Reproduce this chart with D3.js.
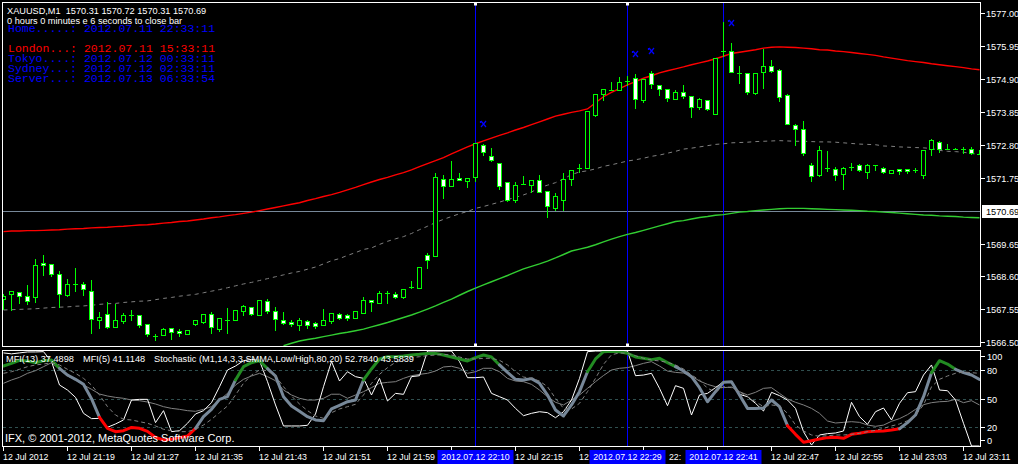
<!DOCTYPE html>
<html><head><meta charset="utf-8">
<script src="https://cdn.jsdelivr.net/npm/d3@7"></script>
<style>html,body{margin:0;padding:0;background:#000;overflow:hidden}svg{display:block}text{font-family:"Liberation Sans",Arial,sans-serif;white-space:pre}</style>
</head><body><svg id="c" width="1018" height="464"></svg>
<script>
// ---------- DATA ----------
const opens = [1567.89,1568.04,1568.10,1567.98,1567.94,1569.04,1569.00,1568.69,1568.02,1568.35,
1568.36,1568.14,1567.21,1567.41,1566.98,1567.17,1567.38,1567.36,1567.09,1566.69,
1566.72,1566.96,1566.87,1566.75,1567.09,1567.16,1567.41,1566.91,1567.22,1567.21,
1567.49,1567.63,1567.36,1567.82,1567.49,1567.21,1567.16,1567.04,1567.18,1567.10,
1567.05,1567.17,1567.41,1567.37,1567.28,1567.42,1567.85,1567.74,1568.08,1568.04,
1567.96,1568.25,1568.23,1569.29,1569.24,1571.71,1571.48,1571.75,1571.64,1571.77,
1572.80,1572.45,1572.22,1571.61,1571.05,1571.56,1571.51,1571.68,1571.31,1570.79,
1571.05,1571.70,1572.05,1572.05,1573.76,1574.43,1574.56,1574.56,1574.83,1574.94,
1574.24,1575.10,1574.71,1574.59,1574.27,1574.49,1574.34,1574.00,1574.24,1573.79,
1575.79,1575.80,1575.08,1575.10,1574.45,1575.12,1575.30,1575.17,1574.40,1573.42,
1573.29,1572.14,1571.84,1572.05,1572.03,1571.86,1572.10,1572.14,1571.92,1572.16,
1572.07,1571.90,1572.01,1572.03,1571.98,1571.84,1572.66,1572.89,1572.67,1572.67,
1572.67,1572.66,1572.51];
const highs = [1568.05,1568.15,1568.10,1568.34,1569.16,1569.27,1569.00,1568.76,1568.53,1568.88,
1568.43,1568.49,1567.48,1567.77,1567.72,1567.42,1567.54,1567.36,1567.09,1566.77,
1566.96,1566.96,1566.93,1566.90,1567.21,1567.41,1567.46,1567.28,1567.60,1567.53,
1567.70,1567.63,1567.85,1567.88,1567.61,1567.48,1567.22,1567.28,1567.22,1567.15,
1567.57,1567.44,1567.42,1567.41,1567.51,1567.94,1567.85,1568.12,1568.12,1568.10,
1568.20,1568.47,1568.91,1569.35,1571.91,1571.85,1572.27,1571.91,1571.75,1572.86,
1572.83,1572.70,1572.22,1571.61,1571.60,1571.79,1571.68,1571.82,1571.31,1571.26,
1571.91,1572.00,1572.20,1573.89,1574.43,1574.59,1574.80,1574.96,1574.98,1575.07,
1574.91,1575.14,1574.71,1574.59,1574.56,1574.69,1574.34,1574.29,1574.24,1575.58,
1576.70,1576.04,1575.30,1575.10,1575.08,1575.86,1575.49,1575.23,1574.43,1573.47,
1573.57,1572.22,1572.76,1572.59,1572.08,1572.10,1572.22,1572.20,1572.17,1572.16,
1572.10,1571.98,1572.01,1572.04,1572.06,1572.64,1572.98,1572.91,1572.81,1572.68,
1572.74,1572.74,1572.62];
const lows = [1567.57,1567.54,1567.74,1567.73,1567.78,1568.63,1568.60,1567.62,1567.99,1568.13,
1568.02,1566.79,1566.95,1566.95,1566.98,1567.10,1567.22,1566.98,1566.71,1566.58,
1566.72,1566.60,1566.69,1566.75,1567.04,1567.13,1566.81,1566.85,1566.81,1567.21,
1567.36,1567.36,1567.36,1567.42,1566.88,1567.07,1567.03,1566.88,1566.95,1566.95,
1567.05,1567.11,1567.25,1567.22,1567.28,1567.42,1567.49,1567.74,1567.74,1567.90,
1567.92,1568.23,1568.23,1568.86,1569.24,1571.11,1571.48,1571.67,1571.45,1571.64,
1572.46,1572.27,1571.38,1570.99,1570.96,1571.56,1571.29,1571.29,1570.51,1570.73,
1570.73,1571.53,1571.92,1572.05,1573.71,1574.24,1574.56,1574.56,1574.69,1573.97,
1574.16,1574.61,1574.37,1574.19,1574.27,1574.29,1573.68,1573.93,1573.91,1573.79,
1575.62,1575.13,1574.77,1574.43,1574.41,1574.61,1575.12,1574.19,1573.45,1572.80,
1572.46,1571.64,1571.80,1571.96,1571.66,1571.38,1571.98,1571.96,1571.73,1571.98,
1571.89,1571.90,1571.88,1571.90,1571.92,1571.75,1572.48,1572.56,1572.66,1572.66,
1572.53,1572.51,1572.49];
const closes = [1567.99,1568.15,1567.97,1567.81,1568.95,1568.96,1568.67,1568.04,1568.36,1568.35,
1568.19,1567.23,1567.32,1566.98,1567.21,1567.38,1567.38,1567.04,1566.77,1566.69,
1566.93,1566.83,1566.80,1566.90,1567.21,1567.41,1567.00,1567.28,1567.22,1567.53,
1567.66,1567.40,1567.85,1567.49,1567.23,1567.12,1567.09,1567.21,1567.05,1567.01,
1567.21,1567.44,1567.26,1567.28,1567.51,1567.85,1567.78,1568.08,1568.08,1567.94,
1568.20,1568.25,1568.91,1569.13,1571.77,1571.49,1571.71,1571.67,1571.75,1572.86,
1572.56,1572.32,1571.48,1571.05,1571.53,1571.56,1571.68,1571.29,1570.84,1571.18,
1571.71,1572.00,1572.05,1573.89,1574.43,1574.59,1574.56,1574.81,1574.83,1574.27,
1574.91,1574.75,1574.59,1574.30,1574.49,1574.36,1574.00,1574.25,1573.94,1575.58,
1575.79,1575.13,1575.08,1574.49,1575.08,1575.30,1575.16,1574.32,1573.47,1573.30,
1572.53,1571.80,1572.62,1572.05,1571.83,1572.07,1572.10,1572.00,1572.14,1572.16,
1571.92,1571.98,1571.96,1571.96,1571.98,1572.64,1572.94,1572.67,1572.67,1572.67,
1572.67,1572.54,1572.51];

const upperMA = [1570.03,1570.05,1570.05,1570.06,1570.06,1570.07,1570.08,1570.09,1570.11,1570.12,
1570.13,1570.15,1570.16,1570.17,1570.19,1570.20,1570.22,1570.24,1570.25,1570.27,
1570.30,1570.32,1570.35,1570.37,1570.40,1570.43,1570.47,1570.50,1570.54,1570.57,
1570.61,1570.65,1570.70,1570.75,1570.80,1570.85,1570.90,1570.95,1571.02,1571.08,
1571.15,1571.21,1571.28,1571.36,1571.44,1571.53,1571.61,1571.69,1571.76,1571.84,
1571.91,1572.00,1572.10,1572.20,1572.29,1572.39,1572.51,1572.62,1572.73,1572.83,
1572.92,1573.01,1573.10,1573.18,1573.27,1573.35,1573.44,1573.53,1573.62,1573.71,
1573.77,1573.83,1573.88,1573.94,1574.14,1574.33,1574.47,1574.59,1574.71,1574.81,
1574.92,1575.00,1575.09,1575.16,1575.22,1575.28,1575.35,1575.41,1575.47,1575.54,
1575.62,1575.71,1575.75,1575.79,1575.83,1575.88,1575.91,1575.92,1575.91,1575.90,
1575.88,1575.86,1575.83,1575.82,1575.79,1575.77,1575.74,1575.71,1575.68,1575.65,
1575.60,1575.56,1575.52,1575.48,1575.45,1575.42,1575.38,1575.35,1575.32,1575.29,
1575.26,1575.22,1575.19];
const middleMA = [1567.53,1567.54,1567.55,1567.56,1567.57,1567.59,1567.61,1567.62,1567.63,1567.65,
1567.66,1567.68,1567.71,1567.73,1567.74,1567.77,1567.79,1567.81,1567.82,1567.86,
1567.90,1567.93,1567.97,1568.00,1568.03,1568.08,1568.13,1568.18,1568.24,1568.30,
1568.36,1568.41,1568.47,1568.53,1568.59,1568.65,1568.71,1568.76,1568.83,1568.90,
1569.00,1569.10,1569.17,1569.27,1569.36,1569.46,1569.51,1569.62,1569.72,1569.80,
1569.87,1569.97,1570.09,1570.20,1570.32,1570.42,1570.51,1570.60,1570.67,1570.77,
1570.83,1570.90,1570.97,1571.05,1571.12,1571.20,1571.29,1571.43,1571.51,1571.59,
1571.71,1571.85,1571.93,1571.97,1572.03,1572.11,1572.16,1572.22,1572.28,1572.32,
1572.37,1572.43,1572.47,1572.53,1572.59,1572.66,1572.69,1572.73,1572.77,1572.81,
1572.83,1572.86,1572.87,1572.88,1572.90,1572.91,1572.92,1572.93,1572.92,1572.91,
1572.91,1572.90,1572.89,1572.89,1572.88,1572.86,1572.84,1572.82,1572.81,1572.80,
1572.76,1572.75,1572.73,1572.72,1572.71,1572.70,1572.68,1572.62,1572.59,1572.58,
1572.56,1572.52,1572.49];
const lowerMA = [null,null,null,null,null,null,null,null,null,null,
null,null,null,null,null,null,null,null,null,null,
null,null,null,null,null,null,null,null,null,null,
null,null,null,null,null,1566.39,1566.47,1566.54,1566.59,1566.63,
1566.68,1566.73,1566.78,1566.82,1566.87,1566.92,1566.99,1567.06,1567.13,1567.21,
1567.29,1567.37,1567.46,1567.56,1567.66,1567.77,1567.88,1568.00,1568.12,1568.23,
1568.33,1568.43,1568.53,1568.63,1568.74,1568.84,1568.92,1569.00,1569.09,1569.19,
1569.30,1569.41,1569.47,1569.53,1569.61,1569.70,1569.79,1569.87,1569.94,1570.00,
1570.07,1570.14,1570.21,1570.28,1570.35,1570.38,1570.43,1570.48,1570.51,1570.55,
1570.57,1570.61,1570.65,1570.67,1570.70,1570.72,1570.74,1570.76,1570.77,1570.77,
1570.77,1570.76,1570.75,1570.74,1570.73,1570.72,1570.71,1570.70,1570.68,1570.67,
1570.65,1570.64,1570.62,1570.60,1570.58,1570.56,1570.55,1570.53,1570.52,1570.51,
1570.49,1570.48,1570.47];

const mfi5 = [98,97,98,99,99,99.3,88.8,64.2,58.9,51.2,
34.4,28.8,29.1,19.7,23.2,27.4,48.4,49.1,49.1,24.6,
37.2,15.1,16.1,23.9,33.7,37.2,45.6,62.4,80.0,84.2,
89.8,91.2,89.8,67.7,43.2,21.1,21.1,21.1,21.8,33.7,
62.4,89.0,68.4,78.2,73.0,71.2,53.7,71.2,47.4,55.4,
54.4,73.0,74.0,100,100,100,100,88.8,71.9,71.9,
72.6,55.4,51.9,48.4,39.6,31.9,34.4,36.1,35.1,29.8,
36.1,48.4,71.2,99.3,100,100,100,100,100,74.0,
74.7,76.5,60.7,42.4,63.5,60.7,32.6,53.7,55.4,61.4,
67.7,67.7,54.4,51.9,44.9,36.8,56.5,53.0,48.4,39.6,
15.1,1.0,11.6,13.0,13.7,15.8,46.0,30.9,22.8,36.1,
40.0,27.4,44.9,56.1,57.2,74.7,85.3,58.9,58.2,48.4,
23.9,0,0];
const mfi13 = [66.0,69.5,72.3,76.5,79.3,83.5,87.7,80.7,73.7,69.5,
64.2,59.7,54.7,52.6,51.2,50.2,48.4,47.7,46.3,44.2,
41.4,39.6,38.6,37.2,36.5,38.6,41.4,48.4,55.4,64.2,
70.2,73.7,76.5,73.0,68.7,58.9,53.7,50.2,48.4,48.4,
50.2,54.5,54.5,50.2,53.7,57.2,61.4,66.0,67.0,67.7,
71.2,74.0,75.4,76.5,78.9,83.2,83.9,81.8,76.5,78.2,
81.8,81.8,78.2,71.2,68.4,67.7,64.9,58.9,51.9,46.0,
43.2,48.4,53.7,60.7,67.7,74.2,80.0,81.8,82.5,84.6,
87.0,88.8,84.2,78.9,77.5,76.8,73.7,68.4,64.9,62.4,
61.4,62.1,57.2,53.7,56.5,60.7,61.4,55.4,49.5,46.0,
43.2,39.6,34.4,26.3,24.2,24.9,25.6,24.9,22.1,20.7,
22.0,26.0,28.8,33.0,38.6,43.5,45.6,46.6,47.0,49.1,
45.6,47.7,43.2];
const stochMain = [84.2,87.0,90.2,89.5,87.7,89.8,90.5,81.8,74.7,70.2,
64.9,49.8,30.2,18.6,15.1,16.1,19.5,18.6,15.4,9.1,
6.3,7.0,8.8,10.5,18.6,30.9,38.6,49.1,51.9,69.5,
83.5,87.7,89.8,81.4,73.7,51.9,42.1,36.5,30.9,27.4,
26.6,39.0,42.8,46.6,48.4,69.5,81.1,91.6,94.0,94.0,
94.7,95.8,96.5,97.5,97.5,95.8,93.7,91.6,89.5,93.0,
95.8,93.7,85.3,77.5,70.2,69.5,70.9,66.0,53.7,37.9,
31.6,43.2,57.2,78.2,91.6,99.3,99.8,99.3,97.5,93.7,
92.3,90.9,92.3,87.7,83.5,78.9,73.0,61.4,46.6,57.2,
67.0,67.7,53.7,39.6,39.6,40.0,48.4,41.4,21.4,12.3,
3.9,5.6,7.4,8.8,9.1,8.1,12.3,13.4,15.1,15.4,
15.9,16.8,18.2,24.6,32.6,51.9,77.2,89.8,86.3,80.7,
77.2,74.7,70.2];
const stochSignal = [76.5,78.2,80.7,83.5,85.3,86.3,87.7,85.3,80.7,76.5,
71.2,64.2,53.7,41.4,32.6,28.1,27.4,25.6,23.9,21.1,
17.6,16.1,15.1,15.1,17.6,22.1,28.1,35.1,42.1,53.7,
66.0,74.7,80.0,79.3,73.7,62.4,52.6,44.2,37.2,31.6,
29.1,35.0,39.0,41.4,43.9,53.7,66.0,75.4,82.5,88.1,
90.5,93.0,94.0,95.1,95.8,96.5,95.8,93.7,91.6,91.6,
92.3,92.3,90.2,85.3,78.2,72.6,71.2,68.4,62.4,50.2,
39.6,38.9,44.9,57.2,71.2,86.0,96.0,98.0,97.5,95.1,
92.3,90.5,89.5,88.1,85.3,81.1,74.7,69.5,60.7,57.2,
62.4,61.4,57.2,51.9,46.6,41.4,43.2,42.1,34.4,22.1,
15.8,11.6,10.2,10.8,11.6,11.6,12.3,13.4,15.1,16.5,
18.5,21.1,23.2,26.6,32.6,43.2,62.4,70.2,73.7,76.5,
77.9,77.2,76.5];
// bar ranges where the stochastic main line is drawn green / red
const greenRuns = [[0,7],[29,33],[45,62],[73,84],[116,119]];
const redRuns = [[12,24],[98,112]];
const fractalBars = [60,79,81,91];

const priceTicks = [1577.00,1575.95,1574.90,1573.85,1572.80,1571.75,1569.65,1568.60,1567.55,1566.50];
const bidPrice = 1570.69;
const indTicks = [100,80,50,20,0];
const indLevels = [80,50,20];
const timeTickBars = [0,8,16,24,32,40,48,56,64,72,80,88,96,104,112,120];
const timeLabels = ["12 Jul 2012","12 Jul 21:19","12 Jul 21:27","12 Jul 21:35","12 Jul 21:43","12 Jul 21:51",
"12 Jul 21:59","12 Jul 22:07","12 Jul 22:15","12 Jul 22:23","12 Jul 22:31","12 Jul 22:39","12 Jul 22:47",
"12 Jul 22:55","12 Jul 23:03","12 Jul 23:11"];
const vlineBars = [59,78,90];
const vlineLabels = ["2012.07.12 22:10","2012.07.12 22:29","2012.07.12 22:41"];
const markedVlines = [59,78];
const headerLines = ["XAUUSD,M1  1570.31 1570.72 1570.31 1570.69","0 hours 0 minutes e 6 seconds to close bar"];
const clockLines = [
 {t:"Home.....: 2012.07.11 22:33:11", c:"#0000ff", y:31.5},
 {t:"London...: 2012.07.11 15:33:11", c:"#ff0000", y:51.5},
 {t:"Tokyo....: 2012.07.12 00:33:11", c:"#0000ff", y:62},
 {t:"Sydney...: 2012.07.12 02:33:11", c:"#0000ff", y:72},
 {t:"Server...: 2012.07.13 06:33:54", c:"#0000ff", y:82}];
const indLabels = [{t:"MFI(13) 37.4898",x:6},{t:"MFI(5) 41.1148",x:83},{t:"Stochastic (M1,14,3,3,SMMA,Low/High,80,20) 52.7840 43.5839",x:154}];
const copyright = "IFX, © 2001-2012, MetaQuotes Software Corp.";

// ---------- DRAW ----------
const svg = d3.select('#c');
const N = opens.length;
const x = d3.scaleLinear().domain([0,122]).range([3,979]);
const y = d3.scaleLinear().domain([1566.5,1577.0]).range([342.3,13]);
const yi = d3.scaleLinear().domain([0,100]).range([446,351]);
const FS = 9.2, TFS = 8.8;

svg.append('rect').attr('width',1018).attr('height',464).attr('fill','#000');
const defs = svg.append('defs');
defs.append('clipPath').attr('id','mc').append('rect').attr('x',3).attr('y',3).attr('width',977).attr('height',343);
defs.append('clipPath').attr('id','ic').append('rect').attr('x',3).attr('y',351).attr('width',977).attr('height',95);

// main window
const main = svg.append('g').attr('clip-path','url(#mc)');
main.append('line').attr('x1',3).attr('x2',980).attr('y1',Math.round(y(bidPrice))+0.5).attr('y2',Math.round(y(bidPrice))+0.5)
  .attr('stroke','#778899').attr('stroke-width',1);
vlineBars.forEach(b=>{
  main.append('line').attr('x1',x(b)+0.5).attr('x2',x(b)+0.5).attr('y1',3).attr('y2',346).attr('stroke','#0000ff');
});
const lineGen = d3.line().defined(d=>d[1]!=null).x(d=>x(d[0])+0.5).y(d=>y(d[1]));
const pts = arr => arr.map((v,i)=>[i,v]);
main.append('path').attr('d',lineGen(pts(middleMA))).attr('fill','none').attr('stroke','#808080').attr('stroke-width',1).attr('stroke-dasharray','4,4');
main.append('path').attr('d',lineGen(pts(upperMA))).attr('fill','none').attr('stroke','#ff0000').attr('stroke-width',1.4);
main.append('path').attr('d',lineGen(pts(lowerMA))).attr('fill','none').attr('stroke','#32cd32').attr('stroke-width',1.4);

const cg = main.append('g');
for(let i=0;i<N;i++){
  const cx = x(i);
  const yh = Math.round(y(highs[i])), yl = Math.round(y(lows[i]));
  cg.append('rect').attr('x',cx).attr('y',yh).attr('width',1).attr('height',Math.max(1,yl-yh+1)).attr('fill','#00ff00');
  const top = Math.round(y(Math.max(opens[i],closes[i]))), bot = Math.round(y(Math.min(opens[i],closes[i])));
  if(bot-top<1){
    cg.append('rect').attr('x',cx-2).attr('y',top).attr('width',5).attr('height',1).attr('fill','#00ff00');
  } else {
    cg.append('rect').attr('x',cx-1.5).attr('y',top+0.5).attr('width',4).attr('height',bot-top)
      .attr('fill', closes[i]>opens[i] ? '#000' : '#fff').attr('stroke','#00ff00').attr('stroke-width',1);
  }
}
// fractal marks
fractalBars.forEach(b=>{
  const fx = x(b)+0.5, fy = Math.round(y(highs[b]))-20;
  main.append('path').attr('d',`M${fx-2.5},${fy-3}L${fx+2.5},${fy+3}M${fx+2.5},${fy-3}L${fx-2.5},${fy+3}M${fx-3},${fy-3}L${fx-3},${fy-1}`)
    .attr('stroke','#0000ff').attr('stroke-width',1.2).attr('fill','none');
});

// header texts
headerLines.forEach((t,i)=>{
  svg.append('text').attr('x',7).attr('y',i===0?13.5:23.5).attr('fill','#fff').attr('font-size',FS).text(t);
});
clockLines.forEach(d=>{
  svg.append('text').attr('x',8).attr('y',d.y).attr('fill',d.c).attr('font-size',11.5)
    .style('font-family','"Liberation Mono","DejaVu Sans Mono",monospace').text(d.t);
});

// frames
svg.append('rect').attr('x',2.5).attr('y',2.5).attr('width',978).attr('height',344).attr('fill','none').attr('stroke','#fff');
svg.append('rect').attr('x',2.5).attr('y',350.5).attr('width',978).attr('height',96).attr('fill','none').attr('stroke','#fff');
markedVlines.forEach(b=>{
  [4,345].forEach(yy=>svg.append('rect').attr('x',x(b)-1).attr('y',yy-1.5).attr('width',3).attr('height',3).attr('fill','#fff'));
});

// price axis
priceTicks.forEach(v=>{
  const yy = Math.round(y(v))+0.5;
  svg.append('line').attr('x1',981).attr('x2',985).attr('y1',yy).attr('y2',yy).attr('stroke','#fff');
  svg.append('text').attr('x',986).attr('y',yy+3.5).attr('fill','#fff').attr('font-size',FS).text(v.toFixed(2));
});
{
  const yy = Math.round(y(bidPrice))+0.5;
  svg.append('rect').attr('x',982).attr('y',yy-6.5).attr('width',36).attr('height',13).attr('fill','#fff');
  svg.append('text').attr('x',986).attr('y',yy+3.5).attr('fill','#000').attr('font-size',FS).text(bidPrice.toFixed(2));
}

// indicator window
const ind = svg.append('g').attr('clip-path','url(#ic)');
indLevels.forEach(v=>{
  const yy = Math.round(yi(v))+0.5;
  ind.append('line').attr('x1',3).attr('x2',980).attr('y1',yy).attr('y2',yy).attr('stroke','#2f4f4f').attr('stroke-dasharray','3,3');
});
indLabels.forEach(d=>svg.append('text').attr('x',d.x).attr('y',362).attr('fill','#fff').attr('font-size',FS).text(d.t));
svg.append('text').attr('x',5).attr('y',441.5).attr('fill','#fff').attr('font-size',11).text(copyright);
vlineBars.forEach(b=>{
  ind.append('line').attr('x1',x(b)+0.5).attr('x2',x(b)+0.5).attr('y1',351).attr('y2',446).attr('stroke','#0000ff');
});
const il = d3.line().x(d=>x(d[0])+0.5).y(d=>yi(d[1]));
ind.append('path').attr('d',il(pts(mfi13))).attr('fill','none').attr('stroke','#808080').attr('stroke-width',1);
ind.append('path').attr('d',il(pts(mfi5))).attr('fill','none').attr('stroke','#ffffff').attr('stroke-width',1);
const inRuns = (runs,i)=>runs.some(([a,b])=>i>=a && i<b);
const colAt = i => inRuns(greenRuns,i) ? '#228b22' : (inRuns(redRuns,i) ? '#ff0000' : '#778899');
let runs=[], cur=null;
for(let i=0;i<N-1;i++){
  const c = colAt(i);
  if(!cur || cur.c!==c){ cur={c,idx:[i]}; runs.push(cur); }
  cur.idx.push(i+1);
}
runs.forEach(r=>{
  ind.append('path').attr('d',il(r.idx.map(i=>[i,stochMain[i]]))).attr('fill','none').attr('stroke',r.c)
    .attr('stroke-width',3).attr('stroke-linejoin','round').attr('stroke-linecap','round');
});
ind.append('path').attr('d',il(pts(stochSignal))).attr('fill','none').attr('stroke','#808080').attr('stroke-width',1).attr('stroke-dasharray','4,3');

// indicator axis
indTicks.forEach(v=>{
  const yy = Math.round(Math.max(356, Math.min(440, yi(v))))+0.5;
  svg.append('line').attr('x1',981).attr('x2',985).attr('y1',yy).attr('y2',yy).attr('stroke','#fff');
  svg.append('text').attr('x',987).attr('y',yy+3.5).attr('fill','#fff').attr('font-size',FS).text(v);
});

// time axis: the blue vertical-line date boxes cover parts of the labels; only the uncovered characters are drawn
const boxW = 76;
const boxes = vlineBars.map(b=>[x(b)+0.5-boxW/2, x(b)+0.5+boxW/2]);
const meas = svg.append('text').attr('font-size',TFS).attr('x',0).attr('y',-50);
timeTickBars.forEach((b,i)=>{
  const xx = x(b)+0.5;
  svg.append('line').attr('x1',xx).attr('x2',xx).attr('y1',447).attr('y2',451).attr('stroke','#fff');
  const label = timeLabels[i], x0 = x(b);
  meas.text(label);
  const node = meas.node();
  let run = null; const pieces = [];
  for(let c=0;c<label.length;c++){
    const a = x0 + (c ? node.getSubStringLength(0,c) : 0);
    const e = x0 + node.getSubStringLength(0,c+1);
    const hidden = boxes.some(([l,r])=> e > l+0.5 && a < r-0.5);
    if(!hidden){
      if(!run){ run={x:a,t:''}; pieces.push(run); }
      run.t += label[c];
    } else run = null;
  }
  pieces.filter(p=>p.t.trim().length).forEach(p=>{
    svg.append('text').attr('x',p.x).attr('y',460).attr('fill','#fff').attr('font-size',TFS).text(p.t.replace(/\s+$/,''));
  });
});
meas.remove();
vlineBars.forEach((b,i)=>{
  const xx = x(b)+0.5;
  svg.append('rect').attr('x',xx-boxW/2).attr('y',450).attr('width',boxW).attr('height',14).attr('fill','#0000ff');
  svg.append('text').attr('x',xx).attr('y',460).attr('text-anchor','middle').attr('fill','#fff').attr('font-size',TFS).text(vlineLabels[i]);
});
</script></body></html>
